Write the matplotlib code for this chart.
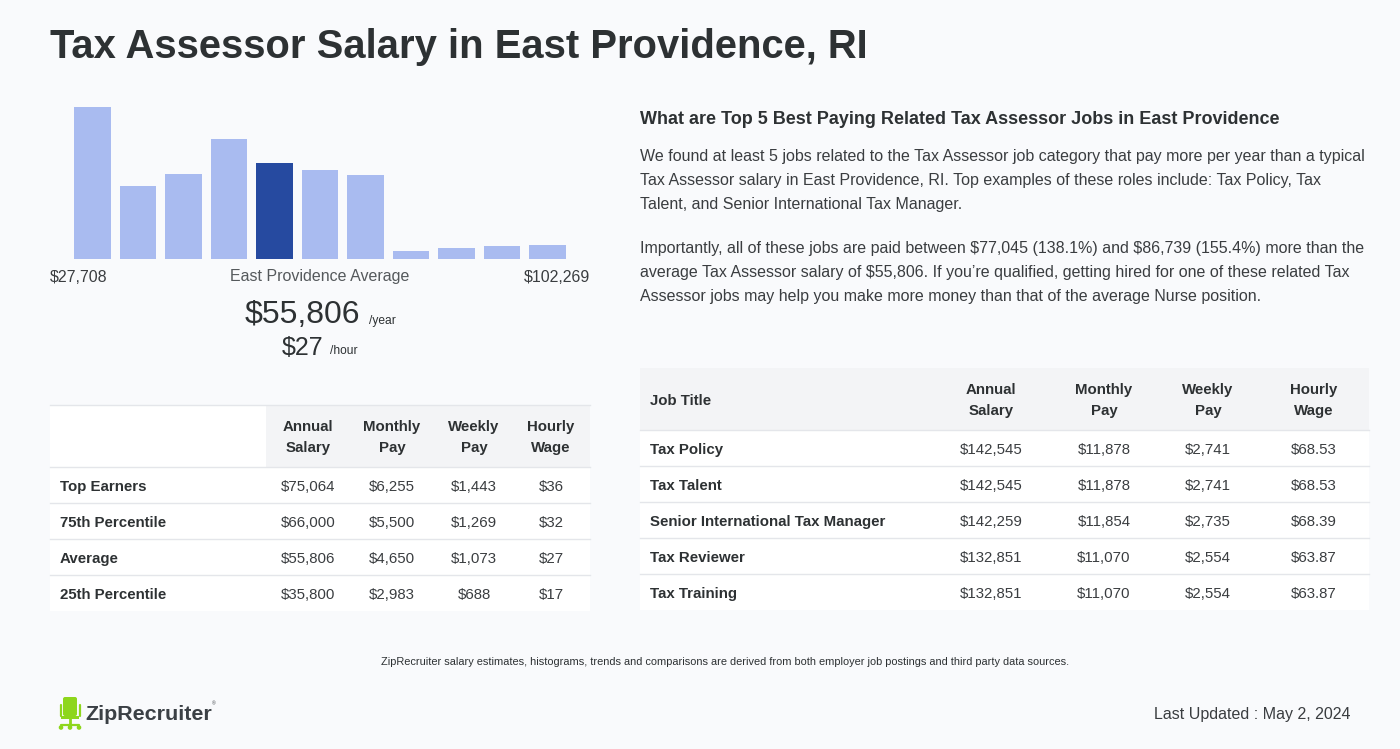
import matplotlib
matplotlib.use("Agg")
import matplotlib.pyplot as plt
from matplotlib.patches import Rectangle, FancyBboxPatch

plt.rcParams['font.family'] = ['Liberation Sans', 'DejaVu Sans']
plt.rcParams['text.parse_math'] = False

# ---------------- data ----------------
title = "Tax Assessor Salary in East Providence, RI"
hist_counts = [152, 73, 85, 120, 96, 89, 84, 8, 11, 13, 14]
highlight_bin = 4
range_low = "$27,708"
range_high = "$102,269"
avg_label = "East Providence Average"
avg_year = "$55,806"
avg_hour = "$27"

left_cols = ["Annual\nSalary", "Monthly\nPay", "Weekly\nPay", "Hourly\nWage"]
left_rows = ["Top Earners", "75th Percentile", "Average", "25th Percentile"]
left_annual = ["$75,064", "$66,000", "$55,806", "$35,800"]
left_monthly = ["$6,255", "$5,500", "$4,650", "$2,983"]
left_weekly = ["$1,443", "$1,269", "$1,073", "$688"]
left_hourly = ["$36", "$32", "$27", "$17"]

right_heading = "What are Top 5 Best Paying Related Tax Assessor Jobs in East Providence"
para1 = ["We found at least 5 jobs related to the Tax Assessor job category that pay more per year than a typical",
         "Tax Assessor salary in East Providence, RI. Top examples of these roles include: Tax Policy, Tax",
         "Talent, and Senior International Tax Manager."]
para2 = ["Importantly, all of these jobs are paid between $77,045 (138.1%) and $86,739 (155.4%) more than the",
         "average Tax Assessor salary of $55,806. If you\u2019re qualified, getting hired for one of these related Tax",
         "Assessor jobs may help you make more money than that of the average Nurse position."]

right_cols = ["Job Title", "Annual\nSalary", "Monthly\nPay", "Weekly\nPay", "Hourly\nWage"]
job_titles = ["Tax Policy", "Tax Talent", "Senior International Tax Manager", "Tax Reviewer", "Tax Training"]
job_annual = ["$142,545", "$142,545", "$142,259", "$132,851", "$132,851"]
job_monthly = ["$11,878", "$11,878", "$11,854", "$11,070", "$11,070"]
job_weekly = ["$2,741", "$2,741", "$2,735", "$2,554", "$2,554"]
job_hourly = ["$68.53", "$68.53", "$68.39", "$63.87", "$63.87"]

footnote = "ZipRecruiter salary estimates, histograms, trends and comparisons are derived from both employer job postings and third party data sources."
updated = "Last Updated : May 2, 2024"

# ---------------- style ----------------
W, H = 1400, 749
BG = "#f9fafc"
TXT = "#2d3133"
BODY = "#3a3d40"
LIGHT = "#a9bbf0"
DARK = "#264aa0"
HDR = "#f3f4f6"
LINE = "#e4e6ea"
DY = 2  # vertical text nudge

def pt(px):
    return px * 72 / 100.0

fig = plt.figure(figsize=(W / 100, H / 100), dpi=100, facecolor=BG)
ax = fig.add_axes([0, 0, 1, 1])
ax.set_xlim(0, W)
ax.set_ylim(H, 0)
ax.axis("off")
ax.set_facecolor(BG)

def T(x, y, s, size, **kw):
    kw.setdefault("va", "center")
    kw.setdefault("color", BODY)
    return ax.text(x, y + DY, s, fontsize=pt(size), **kw)

# title
ax.text(50, 58, title, fontsize=pt(40), fontweight="bold", color=TXT, va="baseline", ha="left")

# histogram axes
hx0, hx1, hy0, hy1 = 50, 590, 100, 259
hax = fig.add_axes([hx0 / W, 1 - hy1 / H, (hx1 - hx0) / W, (hy1 - hy0) / H])
hax.set_facecolor("none")
n = len(hist_counts)
colors = [DARK if i == highlight_bin else LIGHT for i in range(n)]
hax.bar(range(n), hist_counts, width=0.813, color=colors)
hax.set_xlim(-0.934, n - 1 + 0.934)
hax.set_ylim(0, 159)
hax.axis("off")

T(50, 275, range_low, 16, ha="left")
T(320, 275, avg_label, 16, color="#55595c", ha="center")
T(590, 275, range_high, 16, ha="right")
T(360, 313, avg_year, 32, color=TXT, ha="right")
T(369, 319, "/year", 12, color=TXT, ha="left")
T(323, 346, avg_hour, 25, color=TXT, ha="right")
T(330, 349, "/hour", 12, color=TXT, ha="left")

# left table
lt_x0, lt_x1 = 50, 590
lt_hy0, lt_hy1 = 405, 467
row_h = 36
ax.add_patch(Rectangle((lt_x0, lt_hy0), 266 - lt_x0, lt_hy1 - lt_hy0, facecolor="white", edgecolor="none"))
ax.add_patch(Rectangle((266, lt_hy0), lt_x1 - 266, lt_hy1 - lt_hy0, facecolor=HDR, edgecolor="none"))
ax.plot([lt_x0, lt_x1], [lt_hy0, lt_hy0], color=LINE, lw=1)
left_centers = [308, 392, 474, 551]
for cx, lab in zip(left_centers, left_cols):
    a, b = lab.split("\n")
    T(cx, 425, a, 15, fontweight="bold", color=TXT, ha="center")
    T(cx, 446, b, 15, fontweight="bold", color=TXT, ha="center")
left_vals = list(zip(left_annual, left_monthly, left_weekly, left_hourly))
for i, rlab in enumerate(left_rows):
    y0 = lt_hy1 + i * row_h
    ax.add_patch(Rectangle((lt_x0, y0), lt_x1 - lt_x0, row_h, facecolor="white", edgecolor="none"))
    ax.plot([lt_x0, lt_x1], [y0, y0], color=LINE, lw=1)
    yc = y0 + row_h / 2
    T(60, yc, rlab, 15, fontweight="bold", color=TXT, ha="left")
    for cx, v in zip(left_centers, left_vals[i]):
        T(cx, yc, v, 15, ha="center")

# right text
T(640, 118, right_heading, 18, fontweight="bold", color=TXT, ha="left")
for k, line in enumerate(para1):
    T(640, 155 + 24 * k, line, 16, ha="left")
for k, line in enumerate(para2):
    T(640, 247 + 24 * k, line, 16, ha="left")

# right table
rt_x0, rt_x1 = 640, 1369
rt_hy0, rt_hy1 = 368, 430
ax.add_patch(Rectangle((rt_x0, rt_hy0), rt_x1 - rt_x0, rt_hy1 - rt_hy0, facecolor=HDR, edgecolor="none"))
right_centers = [991, 1104, 1208, 1314]
T(650, 399, right_cols[0], 15, fontweight="bold", color=TXT, ha="left")
for cx, lab in zip(right_centers, right_cols[1:]):
    a, b = lab.split("\n")
    T(cx, 388, a, 15, fontweight="bold", color=TXT, ha="center")
    T(cx, 409, b, 15, fontweight="bold", color=TXT, ha="center")
right_vals = list(zip(job_annual, job_monthly, job_weekly, job_hourly))
for i, jt in enumerate(job_titles):
    y0 = rt_hy1 + i * row_h
    ax.add_patch(Rectangle((rt_x0, y0), rt_x1 - rt_x0, row_h, facecolor="white", edgecolor="none"))
    ax.plot([rt_x0, rt_x1], [y0, y0], color=LINE, lw=1)
    yc = y0 + row_h / 2
    T(650, yc, jt, 15, fontweight="bold", color=TXT, ha="left")
    for cx, v in zip(right_centers, right_vals[i]):
        T(cx, yc, v, 15, ha="center")

# footer
T(725, 660, footnote, 11, color=TXT, ha="center")
T(1350, 713, updated, 16, ha="right")

# logo: green chair
G = "#8ed61c"
ax.add_patch(FancyBboxPatch((63, 697), 14, 19, boxstyle="round,pad=0,rounding_size=2", facecolor=G, edgecolor="none"))
ax.plot([60.5, 60.5], [705, 716], color=G, lw=1.6, solid_capstyle="round")
ax.plot([79.5, 79.5], [705, 716], color=G, lw=1.6, solid_capstyle="round")
ax.add_patch(Rectangle((61, 716), 18, 3, facecolor=G, edgecolor="none"))
ax.plot([70, 70], [719, 725], color=G, lw=2)
ax.plot([61, 79], [725, 725], color=G, lw=1.6, solid_capstyle="round")
for xx in (61, 70, 79):
    ax.add_patch(plt.Circle((xx, 727.5), 1.6, color=G))
ax.text(85, 720, "ZipRecruiter", fontsize=pt(21.5), fontweight="bold", color="#3b4045", ha="left", va="baseline")
ax.text(212, 704, "\u00ae", fontsize=pt(5), color="#3b4045", ha="left", va="center")

fig.savefig("out.png", dpi=100, facecolor=BG)
